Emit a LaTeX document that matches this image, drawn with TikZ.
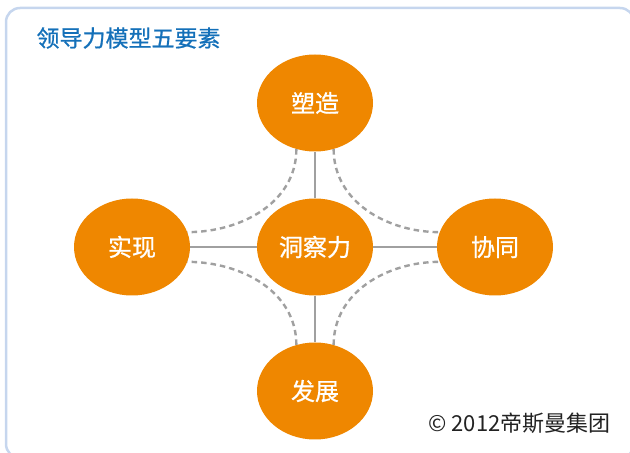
\documentclass[tikz,border=0pt]{standalone}
\usepackage{fontspec}
\setmainfont{Noto Sans CJK SC}
\newfontfamily\heavycjk[FakeBold=0.8]{Noto Sans CJK SC}
\usetikzlibrary{shapes.geometric}
\definecolor{elemorange}{RGB}{239,135,0}
\definecolor{titleblue}{RGB}{20,112,185}
\definecolor{frameblue}{RGB}{198,214,238}
\definecolor{linegray}{RGB}{160,160,160}
\definecolor{notegray}{RGB}{34,34,34}

\begin{document}
\begin{tikzpicture}[x=1pt,y=1pt,
    elem/.style={ellipse, fill=elemorange, text=white, minimum width=116pt,
        minimum height=97pt, inner sep=0pt, font=\heavycjk\fontsize{24}{28}\selectfont},
    link/.style={draw=linegray, line width=2.4pt},
    arcline/.style={draw=linegray, line width=2.4pt, dash pattern=on 5.5pt off 4pt}]

        \useasboundingbox (0,0) rectangle (630,453);

        % Draw the frame and the title
        \draw[frameblue, line width=2.5pt, rounded corners=14pt] (6,445) rectangle (634,-5);
        \node[anchor=west, text=titleblue, font=\heavycjk\fontsize{23}{27}\selectfont] (title) at (33,415) {领导力模型五要素};

        % Define the five elements
        \begin{scope}
            \node[elem] (insight) at (315,206) {洞察力};
            \node[elem] (shape) at (315,350) {塑造};
            \node[elem] (realize) at (132,206) {实现};
            \node[elem] (collab) at (495,206) {协同};
            \node[elem] (develop) at (315,62) {发展};
        \end{scope}

        % Solid links from the centre
        \draw[link] (insight) -- (shape);
        \draw[link] (insight) -- (realize);
        \draw[link] (insight) -- (collab);
        \draw[link] (insight) -- (develop);

        % Dashed arcs between the outer elements
        \draw[arcline] (shape.248) to[out=-90, in=0] (realize.15);
        \draw[arcline] (shape.292) to[out=-90, in=180] (collab.165);
        \draw[arcline] (develop.112) to[out=90, in=0] (realize.-15);
        \draw[arcline] (develop.68) to[out=90, in=180] (collab.195);

        % Note at the bottom
        \node[anchor=east, text=notegray, font=\fontsize{22}{26}\selectfont] (note) at (614,30) {© 2012帝斯曼集团};

    \end{tikzpicture}
\end{document}
